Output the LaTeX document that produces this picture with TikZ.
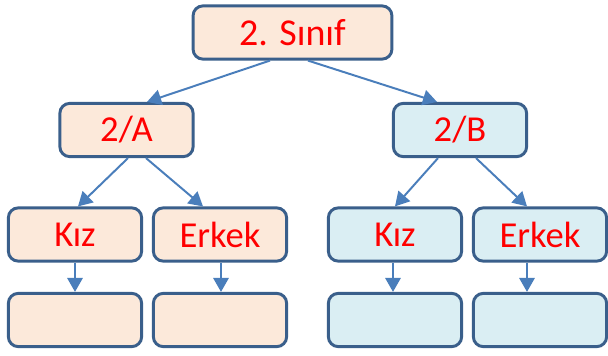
\documentclass[tikz,border=0pt]{standalone}
\usepackage{fontspec}
\setmainfont{Carlito}
\usetikzlibrary{calc,arrows.meta}
\definecolor{kenar}{HTML}{3A5F8B}
\definecolor{okrenk}{HTML}{4A7EBB}
\definecolor{seftali}{HTML}{FCE9DA}
\definecolor{acikmavi}{HTML}{DAEEF3}

\begin{document}
\begin{tikzpicture}[x=0.025cm, y=-0.025cm]
    \pgfmathsetmacro{\kutugen}{3.33}
    \pgfmathsetmacro{\kutuyuk}{1.33}
    \tikzset{
        kutu/.style={draw=kenar, line width=2.1pt, rounded corners=7pt, text=red,
            minimum width=\kutugen cm, minimum height=\kutuyuk cm, inner sep=0pt},
        ok/.style={draw=okrenk, line width=1.4pt, -{Triangle[length=10pt,width=11pt]}}
    }

    \useasboundingbox (0,0) rectangle (608,356);

    \node [kutu, fill=seftali, minimum width=4.97cm, font=\fontsize{27}{30}\selectfont] (sinif) at (292.5, 32.5) {2. Sınıf};

    \node [kutu, fill=seftali, font=\fontsize{26}{28}\selectfont] (subeA) at (126.5, 130) {2/A};
    \node [kutu, fill=acikmavi, font=\fontsize{26}{28}\selectfont] (subeB) at (460, 130) {2/B};

    \node [kutu, fill=seftali, font=\fontsize{26}{28}\selectfont] (kizA) at (75, 234.5) {Kız};
    \node [kutu, fill=seftali, font=\fontsize{26}{28}\selectfont] (erkekA) at (220, 234.5) {Erkek};
    \node [kutu, fill=acikmavi, font=\fontsize{26}{28}\selectfont] (kizB) at (395, 234.5) {Kız};
    \node [kutu, fill=acikmavi, font=\fontsize{26}{28}\selectfont] (erkekB) at (540, 234.5) {Erkek};

    \node [kutu, fill=seftali] (bosKizA) at (75, 320) {};
    \node [kutu, fill=seftali] (bosErkekA) at (220, 320) {};
    \node [kutu, fill=acikmavi] (bosKizB) at (395, 320) {};
    \node [kutu, fill=acikmavi] (bosErkekB) at (540, 320) {};

    \draw [ok] ($(sinif.south)+(-22.5,0)$) -- ($(subeA.north)+(20.5,0)$);
    \draw [ok] ($(sinif.south)+(15.5,0)$) -- ($(subeB.north)+(-23,0)$);

    \draw [ok] ($(subeA.south)+(1.5,0)$) -- ($(kizA.north)+(3,0)$);
    \draw [ok] ($(subeA.south)+(19.5,0)$) -- ($(erkekA.north)+(-17,0)$);
    \draw [ok] ($(subeB.south)+(-22,0)$) -- (kizB.north);
    \draw [ok] ($(subeB.south)+(16,0)$) -- ($(erkekB.north)+(-13,0)$);

    \draw [ok] (kizA.south) -- (bosKizA.north);
    \draw [ok] ($(erkekA.south)+(1,0)$) -- ($(bosErkekA.north)+(1,0)$);
    \draw [ok] ($(kizB.south)+(-2,0)$) -- ($(bosKizB.north)+(-2,0)$);
    \draw [ok] ($(erkekB.south)+(-13,0)$) -- ($(bosErkekB.north)+(-13,0)$);

\end{tikzpicture}
\end{document}
